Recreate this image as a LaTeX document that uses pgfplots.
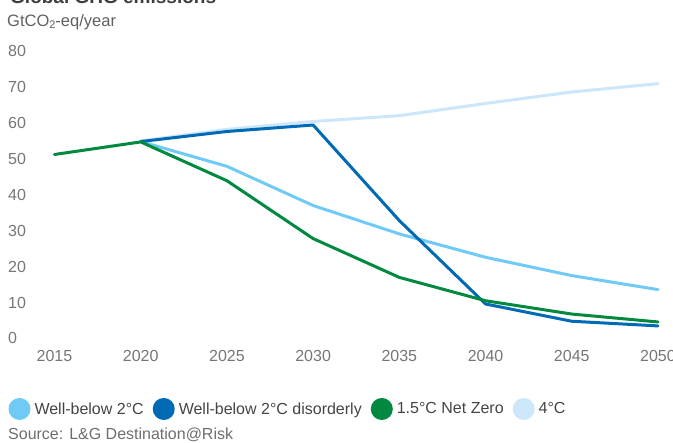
\documentclass[border=0pt]{standalone}
\usepackage{pgfplots}
\pgfplotsset{compat=1.18}
\usepackage{fontspec}
\setmainfont{Liberation Sans}

\definecolor{wb2}{HTML}{6FCBF5}
\definecolor{wb2dis}{HTML}{006BB4}
\definecolor{nz15}{HTML}{00893F}
\definecolor{four}{HTML}{CBE7F9}
\definecolor{tickgray}{HTML}{767676}
\definecolor{txtgray}{HTML}{444444}
\definecolor{srcgray}{HTML}{6E6E6E}

\begin{document}
\begin{tikzpicture}[x=1pt,y=1pt]
\useasboundingbox (0,0) rectangle (673,443);

% title (cut off at the top edge in the reference)
\node[anchor=base west, inner sep=0pt, text=txtgray!90!black,
  font=\fontsize{19}{22}\selectfont\bfseries] at (10,439.5) {Global GHG emissions};
% unit
\node[anchor=base west, inner sep=0pt, text=txtgray!85,
  font=\fontsize{16.5}{19}\selectfont] at (7,416) {GtCO{\fontsize{11}{12}\selectfont\raisebox{-0.1em}{2}}-eq/year};

\begin{axis}[
  at={(54.5pt,104.5pt)}, anchor=south west,
  scale only axis,
  width=603.5pt, height=287.5pt,
  xmin=2015, xmax=2050,
  ymin=0, ymax=80,
  xtick={2015,2020,...,2050},
  ytick={0,10,...,80},
  axis line style={draw=none},
  major tick length=0pt,
  /pgf/number format/assume math mode=true,
  /pgf/number format/1000 sep={},
  tick label style={font=\fontsize{16}{19}\selectfont, text=tickgray},
  yticklabel style={anchor=west, inner sep=0pt, xshift=-46.5pt},
  xticklabel style={anchor=center, inner sep=0pt, yshift=-17.5pt},
  clip=false,
  legend columns=4,
  legend image code/.code={\fill (9.5pt,0pt) circle (9.5pt);},
  legend style={
    at={(-0.0762,-0.2452)}, anchor=west,
    draw=none, fill=none, inner sep=0pt, outer sep=0pt,
    font=\fontsize{16}{19}\selectfont, text=txtgray,
    /tikz/every odd column/.append style={column sep=2pt},
    /tikz/every even column/.append style={column sep=7pt},
  },
  legend cell align=left,
  every axis plot/.append style={line width=3pt, line join=round, line cap=round},
]

\addplot[four, forget plot] coordinates {
  (2020,55.0) (2025,58.2) (2030,60.4) (2035,62.0)
  (2040,65.4) (2045,68.6) (2050,70.9)
};
\addplot[wb2, forget plot] coordinates {
  (2020,54.8) (2025,47.9) (2030,37.0) (2035,29.1)
  (2040,22.6) (2045,17.5) (2050,13.6)
};
\addplot[wb2dis, forget plot] coordinates {
  (2020,54.8) (2025,57.6) (2030,59.4) (2035,32.8)
  (2040,9.6) (2045,4.8) (2050,3.5)
};
\addplot[nz15, forget plot] coordinates {
  (2015,51.2) (2020,54.7) (2025,43.9) (2030,27.8)
  (2035,17.0) (2040,10.5) (2045,6.8) (2050,4.6)
};

\addlegendimage{color=wb2}
\addlegendentry{Well-below 2°C}
\addlegendimage{color=wb2dis}
\addlegendentry{Well-below 2°C disorderly}
\addlegendimage{color=nz15}
\addlegendentry{1.5°C Net Zero}
\addlegendimage{color=four}
\addlegendentry{4°C}
\end{axis}

% source line
\node[anchor=west, inner sep=0pt, text=srcgray,
  font=\fontsize{16}{19}\selectfont] at (8,8) {Source: L\&G Destination@Risk};
\end{tikzpicture}
\end{document}
